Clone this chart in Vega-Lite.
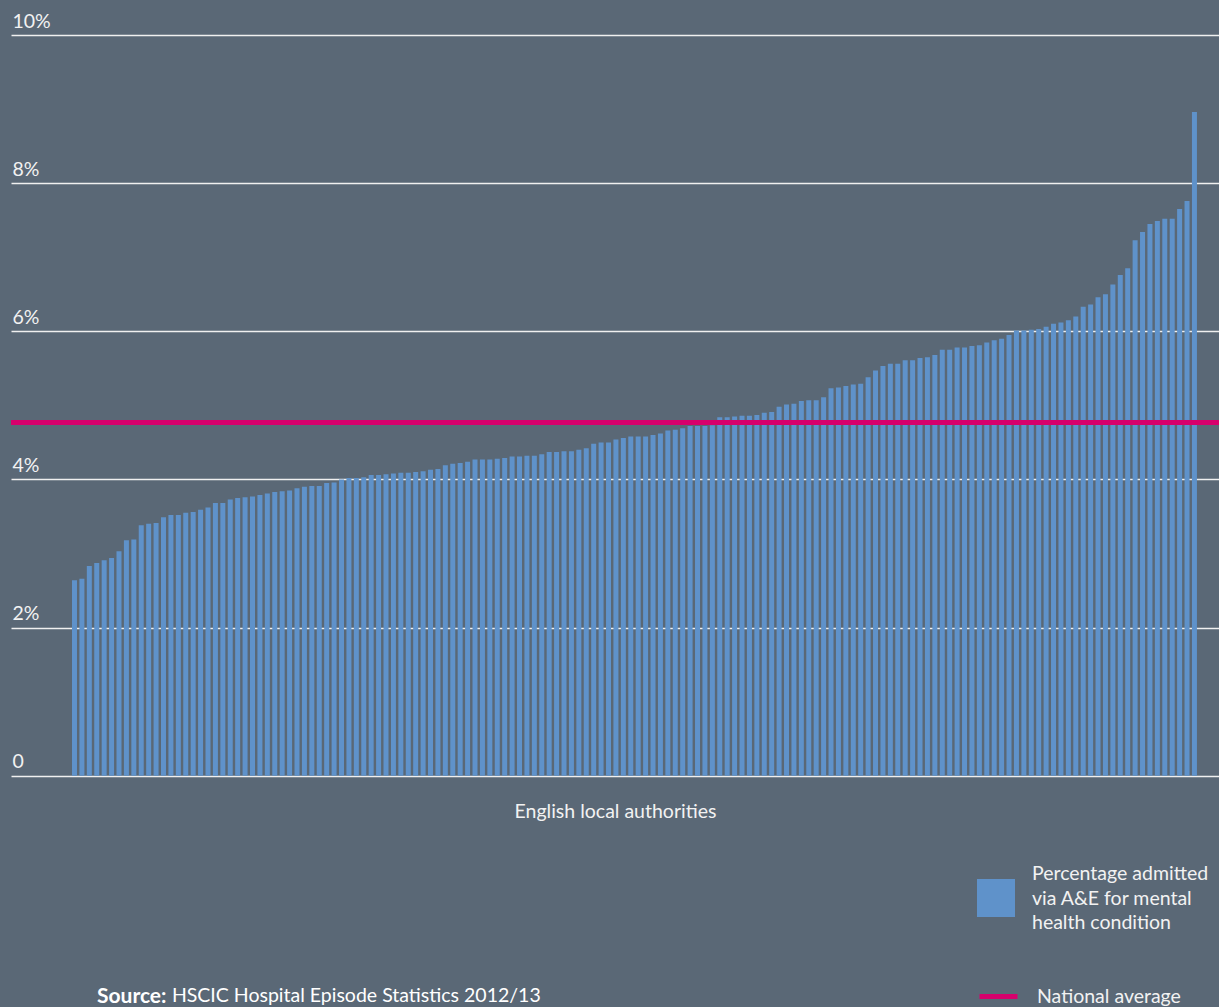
{
  "$schema": "https://vega.github.io/schema/vega-lite/v6.json",
  "autosize": "none",
  "width": 1208,
  "height": 740.7,
  "padding": {"left": 11, "top": 35, "right": 0, "bottom": 231.3},
  "background": "#5a6876",
  "datasets": {
    "authorities": [
      {"rank": 1, "pct": 2.64}, {"rank": 2, "pct": 2.66}, {"rank": 3, "pct": 2.83}, {"rank": 4, "pct": 2.87},
      {"rank": 5, "pct": 2.91}, {"rank": 6, "pct": 2.94}, {"rank": 7, "pct": 3.03}, {"rank": 8, "pct": 3.18},
      {"rank": 9, "pct": 3.19}, {"rank": 10, "pct": 3.38}, {"rank": 11, "pct": 3.40}, {"rank": 12, "pct": 3.41},
      {"rank": 13, "pct": 3.49}, {"rank": 14, "pct": 3.52}, {"rank": 15, "pct": 3.52}, {"rank": 16, "pct": 3.55},
      {"rank": 17, "pct": 3.56}, {"rank": 18, "pct": 3.59}, {"rank": 19, "pct": 3.62}, {"rank": 20, "pct": 3.68},
      {"rank": 21, "pct": 3.68}, {"rank": 22, "pct": 3.73}, {"rank": 23, "pct": 3.75}, {"rank": 24, "pct": 3.76},
      {"rank": 25, "pct": 3.77}, {"rank": 26, "pct": 3.79}, {"rank": 27, "pct": 3.81}, {"rank": 28, "pct": 3.83},
      {"rank": 29, "pct": 3.84}, {"rank": 30, "pct": 3.85}, {"rank": 31, "pct": 3.88}, {"rank": 32, "pct": 3.90},
      {"rank": 33, "pct": 3.91}, {"rank": 34, "pct": 3.91}, {"rank": 35, "pct": 3.95}, {"rank": 36, "pct": 3.96},
      {"rank": 37, "pct": 4.00}, {"rank": 38, "pct": 4.02}, {"rank": 39, "pct": 4.02}, {"rank": 40, "pct": 4.03},
      {"rank": 41, "pct": 4.06}, {"rank": 42, "pct": 4.06}, {"rank": 43, "pct": 4.07}, {"rank": 44, "pct": 4.08},
      {"rank": 45, "pct": 4.09}, {"rank": 46, "pct": 4.09}, {"rank": 47, "pct": 4.10}, {"rank": 48, "pct": 4.11},
      {"rank": 49, "pct": 4.13}, {"rank": 50, "pct": 4.14}, {"rank": 51, "pct": 4.19}, {"rank": 52, "pct": 4.21},
      {"rank": 53, "pct": 4.22}, {"rank": 54, "pct": 4.24}, {"rank": 55, "pct": 4.27}, {"rank": 56, "pct": 4.27},
      {"rank": 57, "pct": 4.27}, {"rank": 58, "pct": 4.28}, {"rank": 59, "pct": 4.29}, {"rank": 60, "pct": 4.31},
      {"rank": 61, "pct": 4.31}, {"rank": 62, "pct": 4.32}, {"rank": 63, "pct": 4.32}, {"rank": 64, "pct": 4.34},
      {"rank": 65, "pct": 4.37}, {"rank": 66, "pct": 4.37}, {"rank": 67, "pct": 4.38}, {"rank": 68, "pct": 4.38},
      {"rank": 69, "pct": 4.40}, {"rank": 70, "pct": 4.42}, {"rank": 71, "pct": 4.48}, {"rank": 72, "pct": 4.50},
      {"rank": 73, "pct": 4.50}, {"rank": 74, "pct": 4.54}, {"rank": 75, "pct": 4.56}, {"rank": 76, "pct": 4.58},
      {"rank": 77, "pct": 4.58}, {"rank": 78, "pct": 4.58}, {"rank": 79, "pct": 4.60}, {"rank": 80, "pct": 4.62},
      {"rank": 81, "pct": 4.66}, {"rank": 82, "pct": 4.67}, {"rank": 83, "pct": 4.69}, {"rank": 84, "pct": 4.72},
      {"rank": 85, "pct": 4.72}, {"rank": 86, "pct": 4.72}, {"rank": 87, "pct": 4.73}, {"rank": 88, "pct": 4.84},
      {"rank": 89, "pct": 4.84}, {"rank": 90, "pct": 4.85}, {"rank": 91, "pct": 4.86}, {"rank": 92, "pct": 4.86},
      {"rank": 93, "pct": 4.87}, {"rank": 94, "pct": 4.90}, {"rank": 95, "pct": 4.91}, {"rank": 96, "pct": 4.98},
      {"rank": 97, "pct": 5.01}, {"rank": 98, "pct": 5.02}, {"rank": 99, "pct": 5.06}, {"rank": 100, "pct": 5.07},
      {"rank": 101, "pct": 5.07}, {"rank": 102, "pct": 5.11}, {"rank": 103, "pct": 5.23}, {"rank": 104, "pct": 5.24},
      {"rank": 105, "pct": 5.26}, {"rank": 106, "pct": 5.28}, {"rank": 107, "pct": 5.29}, {"rank": 108, "pct": 5.38},
      {"rank": 109, "pct": 5.47}, {"rank": 110, "pct": 5.53}, {"rank": 111, "pct": 5.56}, {"rank": 112, "pct": 5.56},
      {"rank": 113, "pct": 5.61}, {"rank": 114, "pct": 5.61}, {"rank": 115, "pct": 5.64}, {"rank": 116, "pct": 5.65},
      {"rank": 117, "pct": 5.68}, {"rank": 118, "pct": 5.75}, {"rank": 119, "pct": 5.75}, {"rank": 120, "pct": 5.78},
      {"rank": 121, "pct": 5.78}, {"rank": 122, "pct": 5.80}, {"rank": 123, "pct": 5.81}, {"rank": 124, "pct": 5.85},
      {"rank": 125, "pct": 5.88}, {"rank": 126, "pct": 5.90}, {"rank": 127, "pct": 5.95}, {"rank": 128, "pct": 6.01},
      {"rank": 129, "pct": 6.01}, {"rank": 130, "pct": 6.02}, {"rank": 131, "pct": 6.03}, {"rank": 132, "pct": 6.06},
      {"rank": 133, "pct": 6.10}, {"rank": 134, "pct": 6.12}, {"rank": 135, "pct": 6.15}, {"rank": 136, "pct": 6.20},
      {"rank": 137, "pct": 6.33}, {"rank": 138, "pct": 6.36}, {"rank": 139, "pct": 6.46}, {"rank": 140, "pct": 6.50},
      {"rank": 141, "pct": 6.63}, {"rank": 142, "pct": 6.76}, {"rank": 143, "pct": 6.85}, {"rank": 144, "pct": 7.23},
      {"rank": 145, "pct": 7.34}, {"rank": 146, "pct": 7.45}, {"rank": 147, "pct": 7.49}, {"rank": 148, "pct": 7.52},
      {"rank": 149, "pct": 7.52}, {"rank": 150, "pct": 7.65}, {"rank": 151, "pct": 7.76}, {"rank": 152, "pct": 8.96}
    ],
    "average": [
      {"label": "National average", "pct": 4.77}
    ]
  },
  "title": {
    "text": "Source:",
    "subtitle": "\u200b\u00a0\u00a0\u00a0\u00a0\u00a0\u00a0\u00a0\u00a0\u00a0\u00a0\u00a0\u00a0\u00a0\u00a0\u00a0HSCIC Hospital Episode Statistics 2012/13",
    "orient": "bottom",
    "anchor": "start",
    "frame": "group",
    "dx": 86,
    "offset": -21,
    "font": "Lato",
    "fontSize": 21,
    "fontWeight": "bold",
    "color": "#ffffff",
    "subtitleFont": "Lato",
    "subtitleFontSize": 19.5,
    "subtitleFontWeight": "normal",
    "subtitleColor": "#ffffff",
    "subtitlePadding": -20.5
  },
  "layer": [
    {
      "data": {"name": "authorities"},
      "mark": {"type": "bar", "width": 5},
      "encoding": {
        "x": {
          "field": "rank",
          "type": "quantitative",
          "scale": {"domain": [-7.561, 155.31], "nice": false, "zero": false, "padding": 0},
          "axis": {
            "title": "English local authorities",
            "labels": false,
            "ticks": false,
            "domain": false,
            "grid": false,
            "titlePadding": 27,
            "titleFont": "Lato",
            "titleFontSize": 19.5,
            "titleFontWeight": "normal",
            "titleColor": "#f2f2f2"
          }
        },
        "y": {
          "field": "pct",
          "type": "quantitative",
          "scale": {"domain": [0, 10], "nice": false},
          "axis": {
            "title": null,
            "values": [0, 2, 4, 6, 8, 10],
            "labelExpr": "datum.value == 0 ? '0' : datum.value + '%'",
            "grid": true,
            "gridColor": "#f0f0f0",
            "gridWidth": 1.6,
            "gridOpacity": 1,
            "domain": false,
            "ticks": false,
            "tickSize": 0,
            "labelAlign": "left",
            "labelBaseline": "alphabetic",
            "labelPadding": -1,
            "labelOffset": -8,
            "labelFlush": false,
            "labelBound": false,
            "labelOverlap": false,
            "labelFont": "Lato",
            "labelFontSize": 19.5,
            "labelColor": "#f2f2f2"
          }
        },
        "fill": {
          "datum": "Percentage admitted via A&E for mental health condition",
          "type": "nominal",
          "scale": {"range": ["#5f92ca"]},
          "legend": {
            "orient": "none",
            "legendX": 966,
            "legendY": 844,
            "title": null,
            "symbolType": "square",
            "symbolSize": 1444,
            "symbolStrokeWidth": 0,
            "labelOffset": 17,
            "labelFont": "Lato",
            "labelFontSize": 19.5,
            "labelColor": "#f2f2f2",
            "labelLimit": 400,
            "labelExpr": "['Percentage admitted', 'via A&E for mental', 'health condition']",
            "encode": {
              "symbols": {"update": {"fill": {"value": "#80b2e2"}, "stroke": {"value": "transparent"}}},
              "labels": {"update": {"lineHeight": {"value": 24.5}, "dy": {"value": -24}}}
            }
          }
        }
      }
    },
    {
      "data": {"name": "average"},
      "mark": {"type": "rule", "strokeWidth": 5},
      "encoding": {
        "y": {"field": "pct", "type": "quantitative"},
        "stroke": {
          "field": "label",
          "type": "nominal",
          "scale": {"range": ["#d6006c"]},
          "legend": {
            "orient": "none",
            "legendX": 966,
            "legendY": 940,
            "title": null,
            "symbolType": "stroke",
            "symbolSize": 1444,
            "symbolStrokeWidth": 5,
            "labelOffset": 17,
            "labelFont": "Lato",
            "labelFontSize": 19.5,
            "labelColor": "#f2f2f2"
          }
        }
      }
    }
  ],
  "config": {
    "view": {"stroke": null},
    "font": "Lato"
  }
}
